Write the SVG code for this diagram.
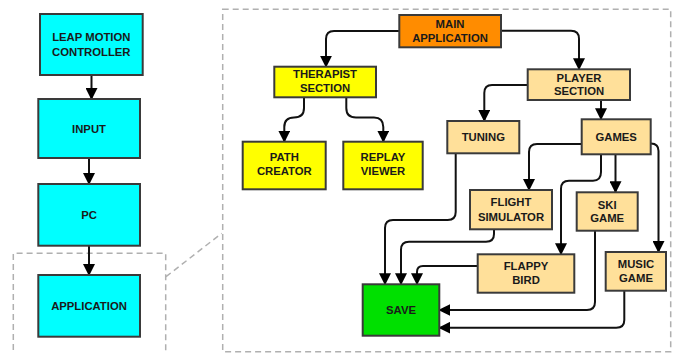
<svg xmlns="http://www.w3.org/2000/svg" width="673" height="353" viewBox="0 0 673 353">
<style>
.box{stroke:#3a3a3a;stroke-width:2}
.cy{fill:#00ffff}.or{fill:#ff8c00}.ye{fill:#ffff00}.pe{fill:#ffe09a}.gr{fill:#00e000}
text{font-family:"Liberation Sans",Arial,sans-serif;font-weight:bold;font-size:11.3px;fill:#1a1a1a;text-anchor:middle}
.dash{fill:none;stroke:#b0b0b0;stroke-width:1.5;stroke-dasharray:6 4}
.c{fill:none;stroke:#111;stroke-width:2;marker-end:url(#ah)}
</style>
<defs>
<marker id="ah" markerUnits="userSpaceOnUse" markerWidth="12" markerHeight="12" refX="11" refY="6" orient="auto">
<path d="M0,0 L12,6 L0,12 z" fill="#000"/>
</marker>
</defs>
<g id="frames">
<rect class="dash" x="222.7" y="9.3" width="448" height="342.4"/>
<path class="dash" d="M13.3 360 V253.3 H165.7 V360"/>
<path class="dash" d="M166 276.7 L221.7 233.3"/>
</g>
<g id="connectors">
<path class="c" d="M91.5 75 V99"/>
<path class="c" d="M89 158 V184"/>
<path class="c" d="M89 245.7 V275"/>
<path class="c" d="M399.3 31 H334 Q326 31 326 39 V66.7"/>
<path class="c" d="M501 30.7 H571 Q579 30.7 579 38.7 V69.3"/>
<path class="c" d="M527.7 85 H492 Q484.3 85 484.3 93 V121"/>
<path class="c" d="M601 100 V119.3"/>
<path class="c" d="M304 97.3 V108 Q304 117.5 294 117.5 Q284.3 117.5 284.3 127 V141.7"/>
<path class="c" d="M346.3 97.3 V108 Q346.3 117.5 356 117.5 H374 Q383.3 117.5 383.3 127 V141.7"/>
<path class="c" d="M581.7 144 H537 Q529 144 529 152 V190"/>
<path class="c" d="M601 154.3 V172 Q601 180.7 593 180.7 H569 Q561 180.7 561 188.7 V254.3"/>
<path class="c" d="M615.5 154.3 V192.3"/>
<path class="c" d="M650.7 143.5 H651 Q658.5 143.5 658.5 151 V252"/>
<path class="c" d="M455.7 153.3 V212 Q455.7 220 447.7 220 H393 Q385 220 385 228 V284.3"/>
<path class="c" d="M494 229.3 V234 Q494 241.7 486 241.7 H409 Q401 241.7 401 249.7 V284.3"/>
<path class="c" d="M477.7 266 H423 Q417 266 417 272 V284.3"/>
<path class="c" d="M595 230.7 V302 Q595 310 587 310 H439.3"/>
<path class="c" d="M624.3 290.7 V320 Q624.3 327.7 616.3 327.7 H439.3"/>
</g>
<g id="leap"><rect class="box cy" x="40" y="14" width="102.7" height="61"/><text x="91.3" y="41.3">LEAP MOTION</text><text x="91.3" y="55.7">CONTROLLER</text></g>
<g id="input"><rect class="box cy" x="38.3" y="99" width="101.7" height="59"/><text x="89" y="132.5">INPUT</text></g>
<g id="pc"><rect class="box cy" x="38.3" y="184" width="101.7" height="61.7"/><text x="89" y="219">PC</text></g>
<g id="application"><rect class="box cy" x="38.3" y="275" width="101.7" height="61.7"/><text x="89" y="310">APPLICATION</text></g>
<g id="main"><rect class="box or" x="399.3" y="15" width="101.7" height="32.3"/><text x="450" y="28">MAIN</text><text x="450" y="41.7">APPLICATION</text></g>
<g id="therapist"><rect class="box ye" x="274.3" y="66.7" width="101.7" height="30.6"/><text x="325" y="78">THERAPIST</text><text x="325" y="92.3">SECTION</text></g>
<g id="player"><rect class="box pe" x="527.7" y="69.3" width="102.3" height="30.7"/><text x="579" y="81.7">PLAYER</text><text x="579" y="94.7">SECTION</text></g>
<g id="path"><rect class="box ye" x="242.7" y="141.7" width="83" height="47.6"/><text x="284.3" y="161.3">PATH</text><text x="284.3" y="175">CREATOR</text></g>
<g id="replay"><rect class="box ye" x="343.3" y="141.7" width="79.4" height="47.6"/><text x="383" y="161.3">REPLAY</text><text x="383" y="175">VIEWER</text></g>
<g id="tuning"><rect class="box pe" x="447.3" y="121" width="72" height="32.3"/><text x="483.3" y="141">TUNING</text></g>
<g id="games"><rect class="box pe" x="581.7" y="119.3" width="69" height="35"/><text x="616.2" y="141">GAMES</text></g>
<g id="flight"><rect class="box pe" x="470" y="190" width="82" height="39.3"/><text x="511" y="206.3">FLIGHT</text><text x="511" y="220.7">SIMULATOR</text></g>
<g id="ski"><rect class="box pe" x="576.7" y="192.3" width="61" height="38.4"/><text x="607.2" y="209">SKI</text><text x="607.2" y="222.3">GAME</text></g>
<g id="flappy"><rect class="box pe" x="477.7" y="254.3" width="96.6" height="38.4"/><text x="526" y="269.7">FLAPPY</text><text x="526" y="284">BIRD</text></g>
<g id="music"><rect class="box pe" x="605.7" y="252" width="60.3" height="38.7"/><text x="636" y="268">MUSIC</text><text x="636" y="282.3">GAME</text></g>
<g id="save"><rect class="box gr" x="362.7" y="284.3" width="76.6" height="51.4"/><text x="401" y="314">SAVE</text></g>
</svg>
